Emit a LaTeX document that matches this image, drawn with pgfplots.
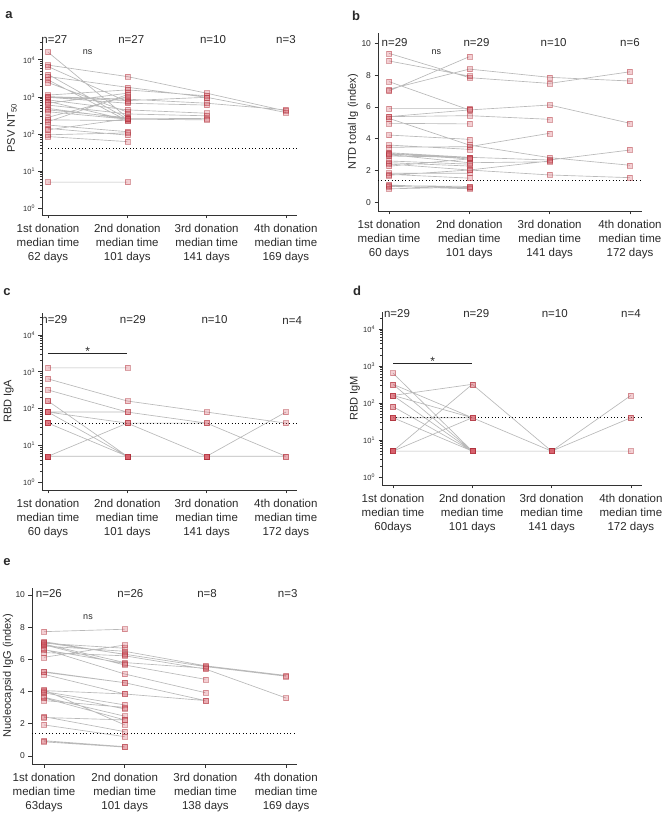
\documentclass[border=0pt]{standalone}
\usepackage{pgfplots}
\pgfplotsset{compat=1.18}
\usepackage{pgfplotstable}
\usepackage{fontspec}
\setmainfont{Liberation Sans}

% Panel a: PSV NT50 (donor trajectories, nan = break between donors)
\pgfplotstableread{
x y
1 16200
2 275
nan nan
1 7240
2 3550
3 1260
4 417
nan nan
1 6610
2 741
nan nan
1 4070
2 257
nan nan
1 3550
2 1820
3 977
4 380
nan nan
1 2880
2 229
nan nan
1 2450
2 389
nan nan
1 1120
2 1550
3 1070
nan nan
1 1020
2 871
3 676
4 447
nan nan
1 977
2 676
3 603
nan nan
1 832
2 447
3 363
nan nan
1 759
2 240
nan nan
1 676
2 1260
nan nan
1 603
2 347
3 309
nan nan
1 490
2 257
3 263
nan nan
1 447
2 275
nan nan
1 398
2 251
3 240
nan nan
1 282
2 1020
nan nan
1 240
2 229
nan nan
1 214
2 1150
nan nan
1 174
2 115
nan nan
1 141
2 93
nan nan
1 129
2 257
nan nan
1 85
2 62
nan nan
1 95
2 107
nan nan
1 5
2 5
nan nan
1 1000
2 794
3 977
}\tabA

% Panel b: NTD total Ig (index)
\pgfplotstableread{
x y
1 9.37
2 7.84
3 7.48
4 8.21
nan nan
1 8.89
2 7.94
nan nan
1 7.59
2 5.81
3 6.12
4 4.97
nan nan
1 7.11
2 8.38
3 7.86
4 7.63
nan nan
1 7.00
2 9.16
nan nan
1 5.91
2 5.91
nan nan
1 5.39
2 5.81
nan nan
1 5.39
2 5.45
3 5.22
nan nan
1 5.28
2 3.60
3 2.81
4 2.33
nan nan
1 4.97
2 4.93
nan nan
1 4.23
2 3.96
nan nan
1 3.60
2 3.33
nan nan
1 3.46
2 3.50
3 4.34
nan nan
1 3.12
2 2.83
3 2.66
4 3.29
nan nan
1 3.04
2 2.73
nan nan
1 2.91
2 2.83
nan nan
1 3.00
2 2.49
3 2.55
nan nan
1 2.49
2 2.28
nan nan
1 2.41
2 2.03
3 1.72
4 1.55
nan nan
1 2.27
2 2.73
nan nan
1 1.83
2 1.83
nan nan
1 1.76
2 1.52
nan nan
1 1.70
2 2.03
3 2.60
nan nan
1 1.09
2 0.90
nan nan
1 1.00
2 0.85
nan nan
1 0.85
2 0.95
nan nan
1 1.05
2 1.00
nan nan
1 3.05
2 2.80
nan nan
1 2.60
2 2.40
}\tabB

% Panel c: RBD IgA
\pgfplotstableread{
x y
1 1280
2 1280
nan nan
1 640
2 160
3 80
4 40
nan nan
1 320
2 80
3 40
4 5
nan nan
1 160
2 5
nan nan
1 160
2 5
nan nan
1 80
2 80
nan nan
1 80
2 5
nan nan
1 80
2 5
nan nan
1 40
2 5
nan nan
1 40
2 5
nan nan
1 40
2 5
nan nan
1 40
2 5
nan nan
1 40
2 5
nan nan
1 5
2 40
3 5
4 80
nan nan
1 5
2 5
3 5
4 5
nan nan
1 5
2 5
3 5
nan nan
1 5
2 5
3 5
nan nan
1 5
2 5
3 5
nan nan
1 5
2 5
3 5
nan nan
1 5
2 5
3 5
nan nan
1 80
2 40
3 40
nan nan
1 80
2 40
nan nan
1 5
2 5
nan nan
1 5
2 5
nan nan
1 5
2 5
nan nan
1 5
2 5
nan nan
1 5
2 5
nan nan
1 5
2 5
nan nan
1 5
2 5
}\tabC

% Panel d: RBD IgM
\pgfplotstableread{
x y
1 640
2 5
nan nan
1 320
2 40
nan nan
1 320
2 5
nan nan
1 160
2 320
3 5
4 40
nan nan
1 160
2 40
3 5
4 160
nan nan
1 160
2 5
nan nan
1 80
2 5
nan nan
1 80
2 5
nan nan
1 40
2 5
nan nan
1 40
2 5
nan nan
1 40
2 5
nan nan
1 40
2 5
nan nan
1 40
2 5
nan nan
1 5
2 320
3 5
4 5
nan nan
1 5
2 40
3 5
4 40
nan nan
1 5
2 5
3 5
nan nan
1 5
2 5
3 5
nan nan
1 5
2 5
3 5
nan nan
1 5
2 5
3 5
nan nan
1 5
2 5
3 5
nan nan
1 5
2 5
3 5
nan nan
1 5
2 5
nan nan
1 5
2 5
nan nan
1 5
2 5
nan nan
1 5
2 5
nan nan
1 5
2 5
nan nan
1 5
2 5
nan nan
1 40
2 40
nan nan
1 160
2 5
}\tabD

% Panel e: Nucleocapsid IgG (index)
\pgfplotstableread{
x y
1 7.72
2 7.87
nan nan
1 7.04
2 6.32
3 5.55
4 4.95
nan nan
1 7.00
2 6.69
nan nan
1 6.95
2 5.80
3 5.45
nan nan
1 6.83
2 6.50
3 5.60
4 5.00
nan nan
1 6.63
2 5.09
3 3.93
nan nan
1 6.42
2 6.22
3 5.40
4 3.60
nan nan
1 6.13
2 6.89
nan nan
1 6.90
2 5.65
3 4.76
nan nan
1 5.24
2 4.55
3 3.44
nan nan
1 5.20
2 4.55
nan nan
1 5.07
2 3.85
3 3.44
nan nan
1 4.06
2 3.85
nan nan
1 4.00
2 3.17
nan nan
1 3.93
2 2.92
nan nan
1 3.65
2 2.47
nan nan
1 3.44
2 3.02
nan nan
1 2.44
2 1.51
nan nan
1 2.39
2 2.24
nan nan
1 1.93
2 1.20
nan nan
1 0.95
2 0.58
nan nan
1 0.88
2 0.55
nan nan
1 4.10
2 1.93
nan nan
1 3.60
2 2.24
nan nan
1 7.10
2 6.30
nan nan
1 6.60
2 5.75
}\tabE

\definecolor{txt}{HTML}{2A2A2A}
\definecolor{mk}{HTML}{B0323C}
\definecolor{mkfill}{HTML}{D9606C}

\tikzset{
  nlab/.style={font=\fontsize{11.5}{13}\selectfont, text=txt},
  nslab/.style={font=\fontsize{9}{10}\selectfont, text=txt},
  starlab/.style={font=\fontsize{12}{12}\selectfont, text=txt, anchor=base, yshift=-2pt},
  plet/.style={font=\bfseries\fontsize{13}{13}\selectfont, text=txt},
}

\pgfplotsset{
  panel/.style={
    scale only axis, axis lines=left, clip=false,
    axis line style={-, line width=0.8pt, black!80},
    xtick={1,2,3,4}, tick align=outside, tick style={black!80},
    major tick length=3.5pt, minor tick length=2pt,
    every major tick/.append style={line width=0.8pt},
    every minor tick/.append style={line width=0.5pt},
    xticklabel style={align=center, font=\fontsize{11.5}{14}\selectfont, text=txt, inner sep=2pt, yshift=-3.5pt},
    yticklabel style={font=\fontsize{8.5}{9}\selectfont, text=txt},
    ylabel style={font=\fontsize{11}{12}\selectfont, text=txt, anchor=center},
    /pgf/number format/assume math mode=true,
    unbounded coords=jump,
  },
  logpanel/.style={
    panel,
    ytick={1,10,100,1000,10000},
    yticklabels={10\textsuperscript{0},10\textsuperscript{1},10\textsuperscript{2},10\textsuperscript{3},10\textsuperscript{4}},
    minor ytick={2,3,4,5,6,7,8,9,20,30,40,50,60,70,80,90,200,300,400,500,600,700,800,900,2000,3000,4000,5000,6000,7000,8000,9000,20000,30000},
    yticklabel style={font=\fontsize{7.5}{8}\selectfont, text=txt},
  },
  linpanel/.style={panel, ytick={0,2,4,6,8,10}},
  donorline/.style={no markers, draw=black!55, draw opacity=0.5, line width=0.65pt, unbounded coords=jump},
  donormark/.style={only marks, mark=square*, mark size=2.5pt, unbounded coords=discard,
     mark options={fill=mkfill, fill opacity=0.3, draw=mk, draw opacity=0.45, line width=0.5pt}},
  cutoff/.style={no markers, black, line width=1pt, dash pattern=on 1pt off 2.4pt},
}

\begin{document}
\begin{tikzpicture}
\path[use as bounding box] (0pt,0pt) rectangle (670pt,820pt);

% ---------- a ----------
\begin{axis}[ymode=log, log basis y=10, logpanel, at={(42pt,605pt)}, anchor=south west, width=255pt, height=174pt,
  xmin=0.924, xmax=4.14, ymin=0.647, ymax=32400,
  xticklabels={{1st donation\\median time\\62 days},{2nd donation\\median time\\101 days},{3rd donation\\median time\\141 days},{4th donation\\median time\\169 days}},
  ylabel={PSV NT\textsubscript{50}}, ylabel style={at={(axis description cs:-0.118,0.5)}}]
\addplot[cutoff] coordinates {(1,40) (4.14,40)};
\addplot[donorline] table[x=x,y=y]{\tabA};
\addplot[donormark] table[x=x,y=y]{\tabA};
\node[nlab] at (axis cs:1.08,34700) {n=27};
\node[nlab] at (axis cs:2.05,34700) {n=27};
\node[nlab] at (axis cs:3.08,34700) {n=10};
\node[nlab] at (axis cs:4.0,34700) {n=3};
\node[nslab] at (axis cs:1.5,16600) {ns};
\end{axis}

% ---------- b ----------
\begin{axis}[linpanel, at={(378pt,609pt)}, anchor=south west, width=264pt, height=178pt,
  xmin=0.863, xmax=4.15, ymin=-0.547, ymax=10.65,
  xticklabels={{1st donation\\median time\\60 days},{2nd donation\\median time\\101 days},{3rd donation\\median time\\141 days},{4th donation\\median time\\172 days}},
  ylabel={NTD total Ig (index)}, ylabel style={at={(axis description cs:-0.095,0.5)}}]
\addplot[cutoff] coordinates {(0.863,1.35) (4.15,1.35)};
\addplot[donorline] table[x=x,y=y]{\tabB};
\addplot[donormark] table[x=x,y=y]{\tabB};
\node[nlab] at (axis cs:1.07,10.02) {n=29};
\node[nlab] at (axis cs:2.09,10.02) {n=29};
\node[nlab] at (axis cs:3.05,10.02) {n=10};
\node[nlab] at (axis cs:4.0,10.02) {n=6};
\node[nslab] at (axis cs:1.59,9.45) {ns};
\end{axis}

% ---------- c ----------
\begin{axis}[ymode=log, log basis y=10, logpanel, at={(42pt,330pt)}, anchor=south west, width=255pt, height=177pt,
  xmin=0.924, xmax=4.14, ymin=0.605, ymax=39800,
  xticklabels={{1st donation\\median time\\60 days},{2nd donation\\median time\\101 days},{3rd donation\\median time\\141 days},{4th donation\\median time\\172 days}},
  ylabel={RBD IgA}, ylabel style={at={(axis description cs:-0.13,0.5)}}]
\addplot[cutoff] coordinates {(1,40) (4.14,40)};
\addplot[donorline] table[x=x,y=y]{\tabC};
\addplot[donormark] table[x=x,y=y]{\tabC};
\addplot[no markers, black!85, line width=0.8pt] coordinates {(1,3236) (2,3236)};
\node[starlab] at (axis cs:1.5,3236) {*};
\node[nlab] at (axis cs:1.08,27200) {n=29};
\node[nlab] at (axis cs:2.07,27200) {n=29};
\node[nlab] at (axis cs:3.1,27200) {n=10};
\node[nlab] at (axis cs:4.08,25500) {n=4};
\end{axis}

% ---------- d ----------
\begin{axis}[ymode=log, log basis y=10, logpanel, at={(382pt,335pt)}, anchor=south west, width=260pt, height=173pt,
  xmin=0.861, xmax=4.14, ymin=0.608, ymax=28800,
  xticklabels={{1st donation\\median time\\60days},{2nd donation\\median time\\101 days},{3rd donation\\median time\\141 days},{4th donation\\median time\\172 days}},
  ylabel={RBD IgM}, ylabel style={at={(axis description cs:-0.104,0.5)}}]
\addplot[cutoff] coordinates {(1,40) (4.14,40)};
\addplot[donorline] table[x=x,y=y]{\tabD};
\addplot[donormark] table[x=x,y=y]{\tabD};
\addplot[no markers, black!85, line width=0.8pt] coordinates {(1,1202) (2,1202)};
\node[starlab] at (axis cs:1.5,1202) {*};
\node[nlab] at (axis cs:1.05,25400) {n=29};
\node[nlab] at (axis cs:2.05,25400) {n=29};
\node[nlab] at (axis cs:3.04,25400) {n=10};
\node[nlab] at (axis cs:4.0,25400) {n=4};
\end{axis}

% ---------- e ----------
\begin{axis}[linpanel, at={(32pt,56pt)}, anchor=south west, width=265pt, height=176pt,
  xmin=0.851, xmax=4.135, ymin=-0.497, ymax=10.43,
  xticklabels={{1st donation\\median time\\63days},{2nd donation\\median time\\101 days},{3rd donation\\median time\\138 days},{4th donation\\median time\\169 days}},
  ylabel={Nucleocapsid IgG (index)}, ylabel style={at={(axis description cs:-0.09,0.5)}}]
\addplot[cutoff] coordinates {(0.851,1.4) (4.135,1.4)};
\addplot[donorline] table[x=x,y=y]{\tabE};
\addplot[donormark] table[x=x,y=y]{\tabE};
\node[nlab] at (axis cs:1.06,10.06) {n=26};
\node[nlab] at (axis cs:2.07,10.06) {n=26};
\node[nlab] at (axis cs:3.02,10.06) {n=8};
\node[nlab] at (axis cs:4.02,10.06) {n=3};
\node[nslab] at (axis cs:1.545,8.63) {ns};
\end{axis}

% panel letters
\node[plet] at (9pt,805pt) {a};
\node[plet] at (356pt,804pt) {b};
\node[plet] at (7pt,528pt) {c};
\node[plet] at (357pt,529pt) {d};
\node[plet] at (7pt,258pt) {e};
\end{tikzpicture}
\end{document}
